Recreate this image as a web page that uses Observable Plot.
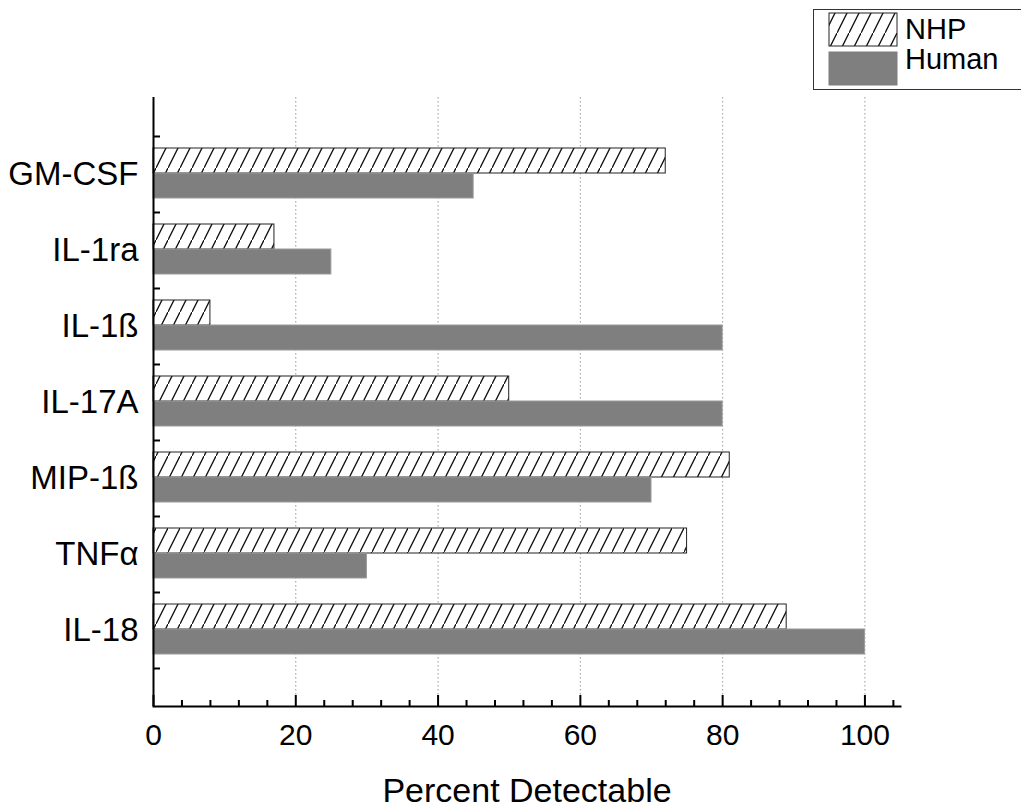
<!DOCTYPE html>
<html><head><meta charset="utf-8">
<script src="https://cdn.jsdelivr.net/npm/d3@7"></script>
<script src="https://cdn.jsdelivr.net/npm/@observablehq/plot@0.6"></script>
<style>
html,body{margin:0;padding:0;background:#fff;overflow:hidden;}
#wrap{position:relative;width:1021px;height:811px;font-family:"Liberation Sans",Arial,sans-serif;}
#legend{position:absolute;left:813px;top:9px;}
</style></head><body>
<svg width="0" height="0" style="position:absolute">
<defs>
<pattern id="hatch" patternUnits="userSpaceOnUse" width="12" height="24">
<rect width="12" height="24" fill="#fff"/>
<path d="M-1,26 L13,-2" stroke="#111" stroke-width="1.3"/>
</pattern>
</defs></svg>
<div id="wrap"></div>
<script>
const categories = ["GM-CSF","IL-1ra","IL-1ß","IL-17A","MIP-1ß","TNFα","IL-18"];
const nhpValues = [72,17,8,50,81,75,89];
const humanValues = [45,25,80,80,70,30,100];
const seriesNames = ["NHP","Human"];
const xMajorTicks = [0,20,40,60,80,100];
const xMinorTicks = [4,8,12,16,24,28,32,36,44,48,52,56,64,68,72,76,84,88,92,96,104];
const gridTicks = [20,40,60,80,100];
const xLabel = "Percent Detectable";

const nhp = categories.map((c,i)=>({cat:c, value:nhpValues[i], series:"NHP"}));
const human = categories.map((c,i)=>({cat:c, value:humanValues[i], series:"Human"}));

const font = '"Liberation Sans", Arial, sans-serif';
const chart = Plot.plot({
  width: 1021, height: 811,
  marginLeft: 153, marginRight: 121, marginTop: 97, marginBottom: 105,
  style: {fontFamily: font, color: "#000", background: "#fff"},
  x: {domain: [0,105]},
  y: {domain: categories, paddingInner: 0, paddingOuter: 0.5},
  marks: [
    Plot.gridX(gridTicks, {stroke: "#999", strokeOpacity: 1, strokeWidth: 1, strokeDasharray: "1.5,2.5"}),
    Plot.barX(nhp, {x: "value", y: "cat", fill: "url(#hatch)", stroke: "#222", strokeWidth: 1, insetTop: 12, insetBottom: 39}),
    Plot.barX(human, {x: "value", y: "cat", fill: "#7f7f7f", stroke: "#9a9a9a", strokeWidth: 1, insetTop: 37, insetBottom: 14}),
    Plot.ruleX([0], {stroke: "#000", strokeWidth: 2}),
    Plot.frame({anchor: "bottom", stroke: "#000", strokeWidth: 2}),
    Plot.axisX(xMajorTicks, {tickSize: 0, tickPadding: 17, fontSize: 30, label: null}),
    Plot.axisX(xMajorTicks, {tickSize: -11, strokeWidth: 2, tickFormat: () => "", label: null}),
    Plot.axisX(xMinorTicks, {tickSize: -6, strokeWidth: 2, tickFormat: () => "", label: null}),
    Plot.axisX([], {tickSize: 0, label: xLabel, labelAnchor: "center", labelArrow: "none", labelOffset: 95, fontSize: 34}),
    Plot.axisY({tickSize: 0, tickPadding: 15, fontSize: 33, label: null}),
    Plot.axisY({tickSize: -7, strokeWidth: 2, tickFormat: () => "", label: null, dy: -38}),
    Plot.axisY(["IL-18"], {tickSize: -7, strokeWidth: 2, tickFormat: () => "", label: null, dy: 38})
  ]
});
document.getElementById("wrap").appendChild(chart);

// legend
const lg = d3.select("#wrap").append("svg").attr("id","legend").attr("width",208).attr("height",82);
lg.append("rect").attr("x",0.5).attr("y",0.5).attr("width",230).attr("height",80).attr("fill","#fff").attr("stroke","#333").attr("stroke-width",1);
const swatchFill = {NHP: "url(#hatch)", Human: "#7f7f7f"};
const swatchStroke = {NHP: "#222", Human: "#7f7f7f"};
seriesNames.forEach((s,i)=>{
  lg.append("rect").attr("x",16).attr("y",4+i*39).attr("width",68).attr("height",33)
    .attr("fill",swatchFill[s]).attr("stroke",swatchStroke[s]).attr("stroke-width",1);
  lg.append("text").attr("x",92).attr("y",29.5+i*30).attr("font-size",29).attr("font-family",font).attr("fill","#000").text(s);
});
</script>
</body></html>
